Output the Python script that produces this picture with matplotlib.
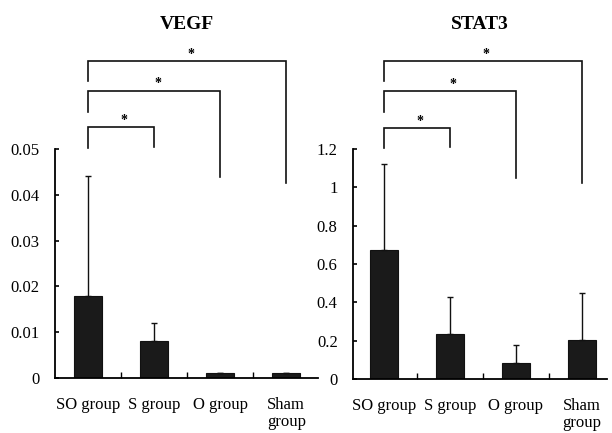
import numpy as np
import matplotlib
matplotlib.use('Agg')
import matplotlib.pyplot as plt
from matplotlib.ticker import FixedLocator

plt.rcParams['font.family'] = ['Liberation Serif', 'DejaVu Serif']

groups = ['SO group', 'S group', 'O group', 'Sham\ngroup']

vegf_mean = [0.018, 0.008, 0.001, 0.001]
vegf_err = [0.026, 0.004, 0.0002, 0.0002]
stat3_mean = [0.67, 0.235, 0.085, 0.205]
stat3_err = [0.45, 0.195, 0.09, 0.245]

vegf_ticks = [0, 0.01, 0.02, 0.03, 0.04, 0.05]
vegf_ticklabels = ['0', '0.01', '0.02', '0.03', '0.04', '0.05']
stat3_ticks = [0, 0.2, 0.4, 0.6, 0.8, 1.0, 1.2]
stat3_ticklabels = ['0', '0.2', '0.4', '0.6', '0.8', '1', '1.2']

# brackets: (from group, to group, bar height, left leg end, right leg end)
vegf_brackets = [(0, 1, 0.0548, 0.0502, 0.0504),
                 (0, 2, 0.0627, 0.0581, 0.0439),
                 (0, 3, 0.0692, 0.0648, 0.0426)]
stat3_brackets = [(0, 1, 1.309, 1.204, 1.21),
                  (0, 2, 1.501, 1.392, 1.048),
                  (0, 3, 1.658, 1.554, 1.022)]


def panel(ax, title, mean, err, ticks, ticklabels, brackets, ytop, xlim, star_off):
    x = np.arange(len(groups))
    ax.bar(x, mean, width=0.42, color='#1a1a1a', edgecolor='#111111', linewidth=0.8, zorder=2)
    ax.errorbar(x, mean, yerr=[np.zeros(len(err)), err], fmt='none', ecolor='#111111',
                elinewidth=1.0, capsize=2.2, capthick=1.0, zorder=3)
    for i, j, h, lb, rb in brackets:
        ax.plot([x[i], x[i], x[j], x[j]], [lb, h, h, rb], color='#111111', lw=1.2,
                solid_joinstyle='miter', clip_on=False)
        ax.text((x[i] + x[j]) / 2 + 0.05, h + star_off, '*', ha='center', va='bottom',
                fontsize=10, fontweight='bold')
    ax.set_xlim(*xlim)
    ax.set_ylim(0, ytop)
    ax.spines['top'].set_visible(False)
    ax.spines['right'].set_visible(False)
    ax.spines['left'].set_bounds(0, ticks[-1])
    ax.spines['left'].set_linewidth(1.3)
    ax.spines['bottom'].set_linewidth(1.3)
    ax.set_yticks(ticks)
    ax.set_yticklabels(ticklabels)
    ax.set_xticks(x)
    ax.set_xticklabels(groups, linespacing=1.05)
    ax.xaxis.set_minor_locator(FixedLocator(x[:-1] + 0.5))
    ax.tick_params(axis='y', direction='in', length=3, width=1.2, pad=11, labelsize=12)
    ax.tick_params(axis='x', which='major', length=0, pad=14, labelsize=12)
    ax.tick_params(axis='x', which='minor', direction='in', length=4, width=1.0)
    ax.set_title(title, fontsize=14, fontweight='bold', pad=8)


fig = plt.figure(figsize=(6.12, 4.33), dpi=100)
ax1 = fig.add_axes([55 / 612, 55 / 433, 263 / 612, 338 / 433])
ax2 = fig.add_axes([353 / 612, 54 / 433, 254 / 612, 339 / 433])

panel(ax1, 'VEGF', vegf_mean, vegf_err, vegf_ticks, vegf_ticklabels, vegf_brackets,
      0.0738, (-0.5, 3.48), 0.0001)
panel(ax2, 'STAT3', stat3_mean, stat3_err, stat3_ticks, stat3_ticklabels, stat3_brackets,
      1.767, (-0.47, 3.38), 0.0)

fig.savefig('out.png', dpi=100)
